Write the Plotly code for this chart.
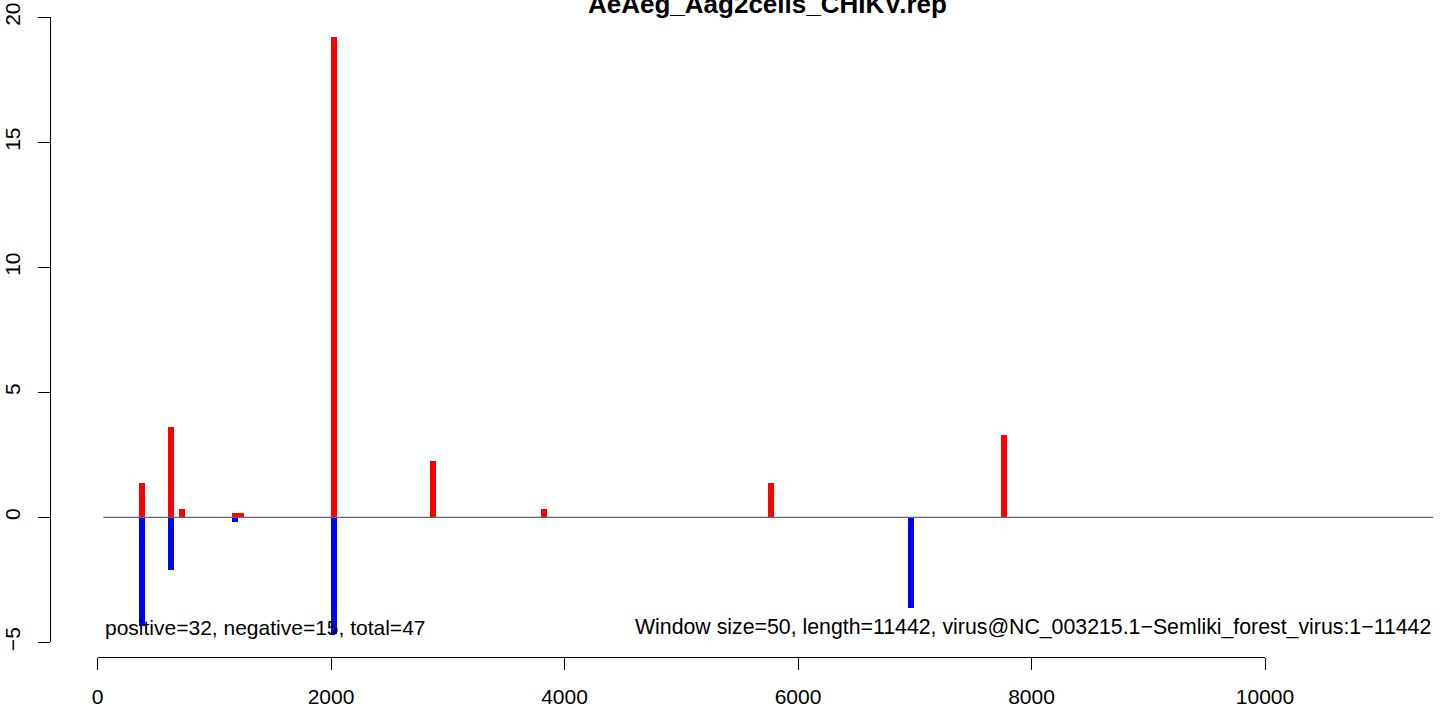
import plotly.graph_objects as go

# ---- data ----
title_text = "AeAeg_Aag2cells_CHIKV.rep"
pos_x = [381, 630, 724, 1178, 1229, 2026, 2873, 3824, 5769, 7764]
pos_y = [1.37, 3.61, 0.33, 0.17, 0.17, 19.2, 2.25, 0.33, 1.37, 3.28]
neg_x = [381, 630, 1178, 2026, 6968]
neg_y = [-4.34, -2.1, -0.2, -4.68, -3.65]
window_size = 50
genome_length = 11442
x_ticks = [0, 2000, 4000, 6000, 8000, 10000]
y_ticks = [-5, 0, 5, 10, 15, 20]
left_note = "positive=32, negative=15, total=47"
right_note = "Window size=50, length=11442, virus@NC_003215.1\u2212Semliki_forest_virus:1\u221211442"

W, H = 1444, 709
FONT = "Liberation Sans, Arial, Helvetica, sans-serif"

# screen-pixel geometry (as measured on the reference) -> figure coordinates
x0_px, px_per_x = 97.5, 233.5 / 2000.0

def xdata(sx):
    return (sx - x0_px) / px_per_x

def xpaper(sx):
    return sx / W

def ypaper(sy):
    return 1 - sy / H

fig = go.Figure()

# zero line
fig.add_trace(go.Scatter(x=[window_size, genome_length], y=[0, 0], mode="lines",
                         line=dict(color="#666666", width=1.2), hoverinfo="skip",
                         showlegend=False))
fig.add_trace(go.Bar(x=pos_x, y=pos_y, width=window_size, marker=dict(color="#FF0000", line=dict(width=0)),
                     showlegend=False))
fig.add_trace(go.Bar(x=neg_x, y=neg_y, width=window_size, marker=dict(color="#0000FF", line=dict(width=0)),
                     showlegend=False))
# empty trace to activate the display x-axis
fig.add_trace(go.Scatter(x=[], y=[], xaxis="x2", yaxis="y", showlegend=False))

fig.update_layout(
    width=W, height=H,
    margin=dict(l=0, r=0, t=0, b=0, autoexpand=False),
    paper_bgcolor="white", plot_bgcolor="rgba(0,0,0,0)",
    barmode="overlay", bargap=0,
    font=dict(family=FONT, size=21, color="black"),
    xaxis=dict(domain=[0, 1], range=[xdata(0), xdata(W)], visible=False, fixedrange=True,
               automargin=False),
    yaxis=dict(domain=[ypaper(642.3), ypaper(17.3)], range=[-5, 20],
               anchor="free", position=xpaper(50), automargin=False,
               tickvals=y_ticks, ticktext=[str(v).replace("-", "\u2212") for v in y_ticks],
               tickangle=-90, ticks="outside", ticklen=12, tickwidth=1.3, tickcolor="black",
               showline=True, linecolor="black", linewidth=1.3,
               showgrid=False, zeroline=False, ticklabelstandoff=9,
               tickfont=dict(family=FONT, size=21, color="black")),
    xaxis2=dict(domain=[xpaper(x0_px), xpaper(x0_px + 10000 * px_per_x)], range=[0, 10000],
                anchor="free", position=ypaper(657), automargin=False,
                tickvals=x_ticks, ticktext=[str(v) for v in x_ticks],
                ticks="outside", ticklen=12, tickwidth=1.3, tickcolor="black",
                showline=True, linecolor="black", linewidth=1.3,
                showgrid=False, zeroline=False, ticklabelstandoff=9,
                tickfont=dict(family=FONT, size=21, color="black")),
)

fig.add_annotation(x=window_size, y=-4.4, xref="x", yref="y", text=left_note,
                   showarrow=False, xanchor="left", yanchor="middle",
                   font=dict(family=FONT, size=21, color="black"))
fig.add_annotation(x=genome_length, y=-4.4, xref="x", yref="y", text=right_note,
                   showarrow=False, xanchor="right", yanchor="middle",
                   font=dict(family=FONT, size=21.3, color="black"))
fig.add_annotation(x=xpaper(767), y=ypaper(21), xref="paper", yref="paper",
                   text="<b>" + title_text + "</b>", showarrow=False,
                   xanchor="center", yanchor="bottom",
                   font=dict(family=FONT, size=26, color="black"))

# remove the default 8px page margin so the figure fills the window exactly
fig.write_html("out.html", config={"displayModeBar": False},
               post_script="document.body.style.margin='0';")
